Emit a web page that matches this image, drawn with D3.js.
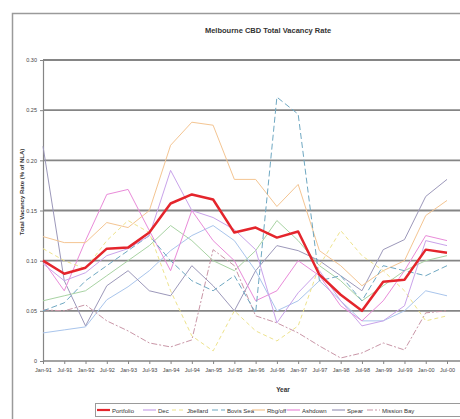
<!DOCTYPE html>
<html><head><meta charset="utf-8">
<script src="https://cdn.jsdelivr.net/npm/d3@7"></script>
<style>body{margin:0;background:#fff}svg{display:block;font-family:"Liberation Sans",Arial,sans-serif}</style>
</head><body><svg id="c" width="460" height="419"></svg>
<script>
const categories = ["Jan-91","Jul-91","Jan-92","Jul-92","Jan-93","Jul-93","Jan-94","Jul-94","Jan-95","Jul-95","Jan-96","Jul-96","Jan-97","Jul-97","Jan-98","Jul-98","Jan-99","Jul-99","Jan-00","Jul-00"];
const yTicks = [0,0.05,0.10,0.15,0.20,0.25,0.30];
const yTickLabels = ["0","0.05","0.10","0.15","0.20","0.25","0.30"];
const seriesNames = ["Portfolio","Dec","Jbellard","Bovis Sea","Rbg/off","Ashdown","Spear","Mission Bay"];
const portfolio = [0.100,0.087,0.093,0.112,0.113,0.128,0.157,0.166,0.161,0.128,0.133,0.123,0.129,0.086,0.066,0.050,0.079,0.081,0.111,0.108];
const dec       = [0.097,0.080,0.088,0.105,0.112,0.125,0.190,0.150,0.143,0.131,0.111,0.038,0.068,0.090,0.060,0.035,0.040,0.055,0.120,0.115];
const jbellard  = [0.112,0.100,0.092,0.120,0.140,0.128,0.070,0.025,0.010,0.050,0.030,0.020,0.035,0.095,0.130,0.105,0.090,0.070,0.040,0.045];
const bovis     = [0.050,0.058,0.080,0.095,0.110,0.125,0.100,0.080,0.070,0.085,0.048,0.263,0.246,0.080,0.085,0.060,0.095,0.090,0.085,0.095];
const rbgoff    = [0.124,0.118,0.118,0.138,0.133,0.150,0.215,0.238,0.235,0.181,0.181,0.154,0.176,0.110,0.095,0.075,0.090,0.100,0.145,0.160];
const ashdown   = [0.100,0.070,0.120,0.166,0.171,0.130,0.090,0.150,0.120,0.100,0.060,0.070,0.100,0.085,0.055,0.040,0.060,0.090,0.125,0.120];
const spear     = [0.214,0.080,0.035,0.075,0.090,0.070,0.065,0.095,0.075,0.050,0.090,0.115,0.110,0.100,0.085,0.070,0.111,0.121,0.164,0.181];
const mission   = [0.051,0.050,0.056,0.040,0.030,0.018,0.014,0.021,0.111,0.095,0.045,0.038,0.028,0.015,0.003,0.008,0.018,0.011,0.048,0.050];
const extraA    = [0.028,0.031,0.034,0.061,0.074,0.090,0.110,0.125,0.135,0.120,0.090,0.050,0.060,0.080,0.060,0.040,0.040,0.050,0.070,0.065];
const extraB    = [0.060,0.065,0.070,0.085,0.100,0.115,0.135,0.120,0.100,0.090,0.110,0.140,0.120,0.095,0.080,0.060,0.075,0.090,0.100,0.105];
const seriesValues = [portfolio,dec,jbellard,bovis,rbgoff,ashdown,spear,mission,extraA,extraB];
const colors = ["#e4252c","#c9a3ea","#eee38c","#6fa8c2","#f4c592","#e98bd9","#9c98ba","#c996a7","#a9c5ec","#a8d3a3"];
const dashes = [null,null,"4,3","6,3",null,null,null,"6,2,2,2",null,null];
const widths = [2.5,1,1,1,1,1,1,1,1,1];

const svg = d3.select("#c");
svg.append("rect").attr("x",12.5).attr("y",13.5).attr("width",520).attr("height",440)
  .attr("fill","#fff").attr("stroke","#9a9a9a").attr("stroke-width",1.5);

const x = d3.scalePoint().domain(categories).range([43, 447]);
const y = d3.scaleLinear().domain([0,0.30]).range([361,60]);

svg.append("text").attr("x",268).attr("y",33).attr("text-anchor","middle")
  .attr("font-size",7.5).attr("font-weight","bold").attr("fill","#333").text("Melbourne CBD Total Vacancy Rate");

svg.append("g").selectAll("line").data(yTicks.filter(d=>d>0)).join("line")
  .attr("x1",43).attr("x2",480).attr("y1",d=>y(d)).attr("y2",d=>y(d))
  .attr("stroke","#858585").attr("stroke-width",1.8);

const ya = svg.append("g").attr("transform","translate(43,0)")
  .call(d3.axisLeft(y).tickValues(yTicks).tickFormat((d,i)=>yTickLabels[i]).tickSize(3).tickPadding(3));
ya.select(".domain").attr("stroke","#858585").attr("stroke-width",1.2);
ya.selectAll("line").attr("stroke","#858585");
ya.selectAll("text").attr("font-size",5.5).attr("fill","#444").attr("font-family","Liberation Sans, Arial");

const xa = svg.append("g").attr("transform","translate(0,361)")
  .call(d3.axisBottom(x).tickSize(3).tickPadding(4));
xa.select(".domain").attr("stroke","#858585").attr("stroke-width",1.4).attr("d","M43,0H480");
xa.selectAll("line").attr("stroke","#858585");
xa.selectAll("text").attr("font-size",5.5).attr("fill","#444").attr("font-family","Liberation Sans, Arial");

const line = d3.line().x((d,i)=>x(categories[i])).y(d=>y(d));
[9,8,7,6,5,4,3,2,1,0].forEach(k=>{
  svg.append("path").datum(seriesValues[k]).attr("d",line).attr("fill","none")
    .attr("stroke",colors[k]).attr("stroke-width",widths[k])
    .attr("stroke-dasharray",dashes[k]).attr("stroke-linejoin","round");
});

svg.append("text").attr("x",283).attr("y",392).attr("text-anchor","middle")
  .attr("font-size",6.5).attr("font-weight","bold").attr("fill","#333").text("Year");
svg.append("text").attr("transform","translate(24,192) rotate(-90)").attr("text-anchor","middle")
  .attr("font-size",6).attr("font-weight","bold").attr("fill","#333").text("Total Vacancy Rate (% of NLA)");

svg.append("rect").attr("x",95.5).attr("y",403.5).attr("width",420).attr("height",13)
  .attr("fill","#fff").attr("stroke","#9a9a9a").attr("stroke-width",1);
const legX = [97,143,172,212,252,287,332,367];
seriesNames.forEach((n,k)=>{
  const lx = legX[k];
  svg.append("line").attr("x1",lx).attr("x2",lx+13).attr("y1",410).attr("y2",410)
    .attr("stroke",colors[k]).attr("stroke-width",k===0?2.2:1.2).attr("stroke-dasharray",dashes[k]);
  svg.append("text").attr("x",lx+15).attr("y",412.5).attr("font-size",6).attr("fill","#333").text(n);
});
</script></body></html>
